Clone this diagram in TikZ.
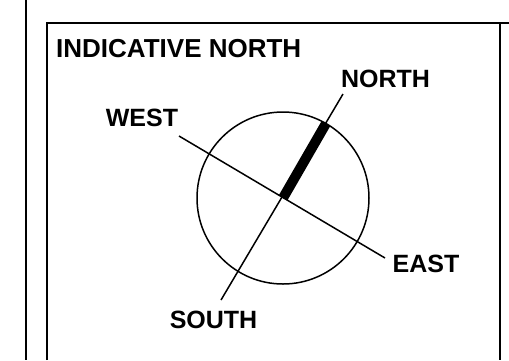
\documentclass[tikz,border=0pt]{standalone}
\usepackage{fontspec}
\setmainfont{Liberation Sans}
\usepackage{tikz}
\usetikzlibrary{calc}

\begin{document}
\begin{tikzpicture}[
    x=1pt, y=-1pt,
    label/.style={font=\fontsize{25}{28}\selectfont\bfseries, inner sep=0pt, anchor=base},
    frame/.style={draw=black, line width=1.4pt},
    thinline/.style={draw=black, line width=1.5pt},
    needle/.style={draw=black, line width=10pt, line cap=butt}
]

\useasboundingbox (0,0) rectangle (509,360);

% frame
\draw[frame, line width=2pt] (26,0) -- (26,360);
\draw[frame] (47,360) |- (509,23);
\draw[frame, line width=1.8pt] (500,23) -- (500,360);

\node[label, font=\fontsize{26}{30}\selectfont\bfseries, anchor=base west] (title) at (56,57) {INDICATIVE NORTH};

% compass
\coordinate (c) at (283,198);
\coordinate (w) at (179,136);
\coordinate (e) at (385,258);
\coordinate (n) at (343,94);
\coordinate (s) at (221,300);
\coordinate (tip) at ($(c)!86pt!(n)$);

\node[label] (north) at (385.5,87) {NORTH};
\node[label] (west) at (142,126) {WEST};
\node[label] (east) at (426,272) {EAST};
\node[label] (south) at (213.5,328) {SOUTH};

\draw[thinline] (c) circle (86);
\draw[thinline] (w) -- (e);
\draw[thinline] (s) -- (n);
\draw[needle] (c) -- (tip);

\end{tikzpicture}
\end{document}
